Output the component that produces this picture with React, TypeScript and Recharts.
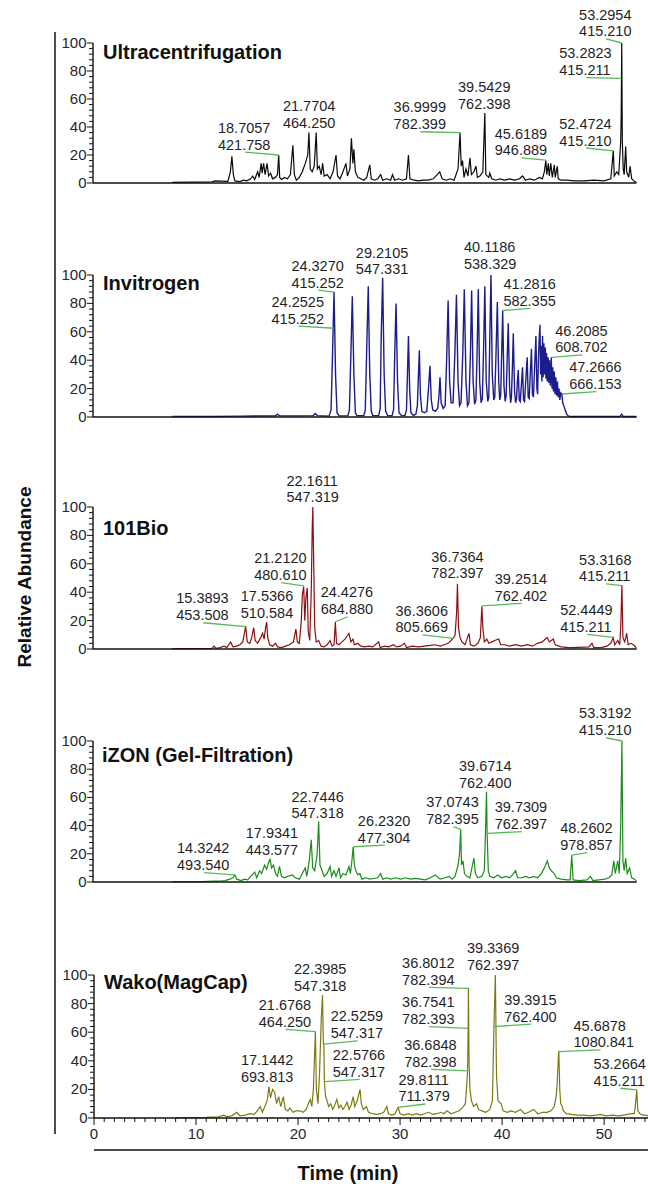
import React from 'react';
import { LineChart, Line, XAxis, YAxis, ReferenceLine, ReferenceDot } from 'recharts';

type Pt = [number, number];
type Ann = { t: string; m: string; x: number; ly: number; px?: number; py?: number };

const abundanceTicks = [0, 4, 8, 12, 16, 20, 24, 28, 32, 36, 40, 44, 48, 52, 56, 60, 64, 68, 72, 76, 80, 84, 88, 92, 96, 100];
const abundanceLabels = [0, 20, 40, 60, 80, 100];
const timeTicks = [0, 1, 2, 3, 4, 5, 6, 7, 8, 9, 10, 11, 12, 13, 14, 15, 16, 17, 18, 19, 20, 21, 22, 23, 24, 25, 26, 27, 28, 29, 30, 31, 32, 33, 34, 35, 36, 37, 38, 39, 40, 41, 42, 43, 44, 45, 46, 47, 48, 49, 50, 51, 52, 53, 54];
const timeLabels = [0, 10, 20, 30, 40, 50];

const panelNames = ['Ultracentrifugation', 'Invitrogen', '101Bio', 'iZON (Gel-Filtration)', 'Wako(MagCap)'];

const ultracentrifugation: Pt[] = [
  [8.0, 0.5], [10.0, 0.6], [12.0, 0.8], [12.3, 1.5], [13.6, 1.2], [13.85, 8], [14.0, 19], [14.15, 6], [14.3, 1.5], [14.8, 1], [15.2, 2], [15.5, 1.5], [15.9, 3], [16.1, 5], [16.3, 2.5], [16.6, 8], [16.75, 4], [16.95, 14], [17.05, 7], [17.2, 14], [17.35, 6], [17.55, 14], [17.7, 5], [17.9, 7], [18.1, 3], [18.4, 4], [18.6, 6], [18.72, 20], [18.82, 4], [19.0, 2.5], [19.3, 4], [19.6, 3], [19.9, 6], [20.15, 27], [20.3, 6], [20.5, 2], [20.8, 4], [21.1, 8], [21.4, 14], [21.65, 20], [21.77, 36], [21.9, 10], [22.1, 8], [22.3, 12], [22.5, 36], [22.62, 10], [22.8, 12], [23.0, 6], [23.15, 14], [23.3, 5], [23.6, 6], [23.9, 3], [24.2, 8], [24.5, 20], [24.65, 5], [24.9, 3], [25.2, 8], [25.5, 14], [25.65, 5], [25.9, 10], [26.05, 32], [26.2, 14], [26.3, 24], [26.45, 8], [26.7, 4], [27.0, 3], [27.3, 2], [27.6, 4], [27.9, 13], [28.05, 3], [28.4, 2], [28.7, 3], [29.0, 6], [29.2, 2], [29.6, 3], [30.0, 2], [30.2, 6], [30.4, 2], [30.8, 3], [31.2, 2], [31.6, 3], [31.8, 20], [31.95, 3], [32.4, 2], [32.8, 1.5], [33.3, 2], [33.8, 2], [34.3, 3], [34.7, 6], [34.95, 8], [35.2, 3], [35.6, 2], [36.0, 3], [36.4, 2], [36.8, 10], [37.0, 36], [37.12, 12], [37.25, 16], [37.4, 4], [37.6, 10], [37.8, 5], [38.0, 18], [38.15, 6], [38.4, 8], [38.6, 12], [38.75, 4], [39.0, 5], [39.3, 8], [39.5, 50], [39.6, 6], [39.9, 4], [40.0, 7], [40.2, 3], [40.6, 2], [41.0, 3], [41.5, 2], [42.0, 3], [42.5, 2], [43.0, 3], [43.3, 5], [43.6, 2], [44.0, 3], [44.5, 2], [45.0, 4], [45.3, 3], [45.5, 8], [45.65, 16], [45.75, 6], [45.9, 14], [46.0, 5], [46.15, 14], [46.3, 4], [46.5, 13], [46.6, 4], [46.8, 12], [46.9, 3], [47.2, 2], [47.8, 2], [48.5, 1.5], [49.5, 1.5], [50.5, 2], [51.5, 1.5], [52.2, 3], [52.45, 23], [52.55, 5], [52.8, 8], [53.0, 6], [53.2, 30], [53.25, 50], [53.3, 100], [53.36, 30], [53.45, 10], [53.55, 6], [53.7, 26], [53.8, 8], [54.0, 4], [54.15, 12], [54.3, 3], [54.6, 1], [54.8, 0.5],
];

const invitrogen: Pt[] = [
  [8.0, 0.3], [12, 0.4], [15, 0.6], [18.4, 0.8], [18.6, 2], [18.8, 0.8], [21, 0.8], [22.2, 1], [22.4, 2.5], [22.6, 1], [23.8, 0.6], [24.0, 5], [24.15, 45], [24.3, 88], [24.45, 30], [24.6, 3], [24.8, 0.8], [25.7, 1], [25.85, 5], [26.0, 45], [26.14, 85], [26.3, 30], [26.45, 3], [26.6, 1], [27.3, 1], [27.45, 5], [27.6, 50], [27.75, 92], [27.9, 30], [28.05, 4], [28.2, 1], [28.8, 1], [28.95, 6], [29.05, 55], [29.2, 98], [29.35, 30], [29.5, 4], [29.7, 1], [30.15, 1], [30.3, 5], [30.42, 45], [30.55, 80], [30.7, 25], [30.85, 3], [31.1, 1], [31.45, 1], [31.6, 5], [31.7, 30], [31.8, 57], [31.92, 20], [32.05, 3], [32.3, 1], [32.55, 2], [32.7, 8], [32.8, 28], [32.9, 47], [33.0, 16], [33.15, 4], [33.4, 3], [33.65, 4], [33.8, 18], [33.97, 36], [34.1, 12], [34.25, 5], [34.5, 4], [34.75, 6], [34.88, 15], [34.98, 28], [35.1, 10], [35.3, 6], [35.5, 8], [35.65, 40], [35.8, 82], [35.95, 25], [36.1, 10], [36.3, 10], [36.48, 45], [36.64, 86], [36.8, 25], [36.95, 8], [37.1, 10], [37.28, 45], [37.43, 90], [37.6, 25], [37.75, 8], [37.9, 10], [38.05, 45], [38.17, 89], [38.32, 25], [38.47, 9], [38.6, 12], [38.72, 45], [38.84, 90], [38.98, 25], [39.12, 10], [39.25, 13], [39.38, 50], [39.5, 92], [39.64, 25], [39.8, 11], [39.9, 14], [40.0, 55], [40.12, 100], [40.25, 30], [40.4, 12], [40.5, 14], [40.63, 45], [40.76, 81], [40.9, 25], [41.0, 12], [41.1, 15], [41.2, 45], [41.3, 75], [41.43, 22], [41.55, 11], [41.65, 15], [41.75, 40], [41.86, 66], [42.0, 20], [42.1, 10], [42.18, 14], [42.28, 35], [42.37, 59], [42.5, 18], [42.6, 10], [42.7, 13], [42.78, 25], [42.87, 33], [42.97, 12], [43.07, 11], [43.18, 22], [43.3, 35], [43.4, 12], [43.5, 11], [43.62, 25], [43.77, 42], [43.87, 14], [43.97, 13], [44.08, 30], [44.2, 48], [44.3, 16], [44.4, 14], [44.52, 35], [44.65, 57], [44.75, 20], [44.82, 16], [44.9, 40], [44.98, 55], [45.06, 65], [45.12, 30], [45.18, 50], [45.25, 25], [45.32, 57], [45.38, 28], [45.45, 52], [45.52, 30], [45.6, 49], [45.66, 27], [45.72, 45], [45.8, 25], [45.88, 42], [45.95, 24], [46.02, 40], [46.1, 22], [46.2, 42], [46.27, 20], [46.35, 35], [46.42, 18], [46.5, 32], [46.58, 16], [46.66, 28], [46.74, 15], [46.82, 25], [46.9, 14], [46.98, 20], [47.06, 12], [47.15, 17], [47.27, 16], [47.35, 10], [47.45, 8], [47.6, 5], [47.75, 2], [47.9, 0.8], [48.2, 0.3], [50, 0.3], [53.1, 0.3], [53.3, 2], [53.45, 0.3], [54.8, 0.3],
];

const bio101: Pt[] = [
  [8.0, 0.3], [10, 0.3], [12.0, 0.5], [12.2, 2], [12.4, 0.5], [12.8, 1], [13.2, 2], [13.5, 1], [13.87, 5], [14.1, 1.5], [14.5, 2], [14.8, 3], [15.1, 5], [15.39, 16], [15.55, 5], [15.8, 4], [16.0, 8], [16.2, 15], [16.35, 6], [16.6, 4], [16.9, 8], [17.1, 11], [17.25, 7], [17.4, 15], [17.5, 19], [17.62, 8], [17.8, 3], [18.1, 2], [18.4, 4], [18.6, 1.5], [19.0, 1], [19.4, 2], [19.8, 3], [20.2, 5], [20.45, 14], [20.6, 5], [20.8, 4], [21.0, 20], [21.1, 38], [21.24, 44], [21.35, 20], [21.45, 35], [21.6, 43], [21.7, 12], [21.85, 6], [22.0, 40], [22.1, 85], [22.16, 100], [22.25, 60], [22.35, 15], [22.5, 5], [22.75, 6], [23.0, 2], [23.3, 1.5], [23.6, 3], [23.9, 6], [24.1, 2], [24.3, 3], [24.43, 19], [24.55, 4], [24.8, 3], [25.1, 5], [25.4, 7], [25.6, 9], [25.8, 11], [26.0, 5], [26.2, 7], [26.35, 3], [26.7, 4], [27.0, 2], [27.4, 1.5], [27.8, 2], [28.2, 1.5], [28.8, 5], [28.95, 1], [29.4, 2], [29.8, 1.5], [30.3, 3], [30.6, 1.5], [31.0, 2], [31.4, 4], [31.6, 1], [32.2, 2], [32.8, 1.5], [33.4, 2], [34.0, 2.5], [34.5, 3], [35.0, 2], [35.4, 3], [35.8, 4], [36.1, 6], [36.36, 8], [36.5, 10], [36.65, 25], [36.74, 46], [36.85, 15], [37.0, 8], [37.2, 5], [37.5, 3], [37.9, 11], [38.05, 3], [38.4, 2], [38.8, 4], [39.05, 8], [39.2, 30], [39.3, 15], [39.45, 5], [39.7, 7], [39.9, 4], [40.2, 5], [40.5, 6], [40.9, 7], [41.1, 3], [41.5, 3], [42.0, 2], [42.6, 3], [43.2, 2], [43.8, 3], [44.3, 2], [44.8, 4], [45.3, 5], [45.6, 7], [45.8, 8], [46.0, 5], [46.2, 6], [46.4, 7], [46.6, 3], [47.2, 1.5], [48.0, 1], [49.0, 1.2], [50.0, 1.5], [50.3, 4], [50.5, 1], [51.2, 1], [51.8, 2], [52.2, 4], [52.44, 8], [52.6, 3], [52.9, 6], [53.1, 3], [53.2, 15], [53.32, 45], [53.42, 8], [53.6, 5], [53.8, 11], [53.95, 3], [54.2, 4], [54.5, 3], [54.8, 0.5],
];

const izon: Pt[] = [
  [8.0, 0.3], [11, 0.3], [12.9, 0.8], [13.3, 1], [13.8, 2], [14.1, 3], [14.3, 5], [14.5, 2], [14.9, 1], [15.3, 2], [15.6, 1.5], [15.9, 4], [16.3, 7], [16.5, 3], [16.8, 8], [17.0, 6], [17.3, 12], [17.5, 9], [17.7, 14], [17.85, 16], [18.0, 10], [18.2, 12], [18.4, 6], [18.6, 4], [18.8, 11], [19.0, 4], [19.3, 3], [19.6, 4], [20.1, 5], [20.4, 3], [20.8, 2], [21.1, 6], [21.4, 10], [21.55, 4], [21.8, 15], [22.0, 30], [22.15, 10], [22.35, 8], [22.6, 20], [22.75, 43], [22.88, 12], [23.1, 8], [23.3, 4], [23.6, 6], [23.9, 11], [24.05, 4], [24.3, 8], [24.5, 4], [24.8, 10], [24.95, 3], [25.2, 6], [25.5, 5], [25.8, 11], [25.95, 6], [26.1, 15], [26.23, 25], [26.35, 12], [26.5, 8], [26.7, 5], [26.9, 6], [27.1, 2], [27.5, 3], [27.9, 2], [28.3, 2.5], [28.7, 3], [29.0, 6], [29.2, 2], [29.6, 3], [30.0, 2], [30.5, 3], [31.0, 2], [31.5, 3], [32.0, 2], [32.5, 2.5], [33.0, 2], [33.5, 1.5], [34.0, 3], [34.5, 5], [35.0, 2], [35.5, 3], [35.9, 4], [36.2, 2], [36.5, 4], [36.8, 12], [36.95, 20], [37.07, 37.4], [37.15, 12], [37.3, 15], [37.45, 6], [37.7, 4], [38.0, 3], [38.25, 12], [38.4, 17], [38.55, 6], [38.8, 3], [39.2, 4], [39.45, 8], [39.55, 32], [39.67, 64], [39.73, 34.5], [39.85, 8], [40.0, 4], [40.4, 3], [40.8, 5], [41.2, 3], [41.6, 4], [42.0, 3], [42.3, 5], [42.6, 8], [42.8, 3], [43.2, 3], [43.6, 4], [44.0, 3], [44.4, 4], [44.8, 3], [45.2, 6], [45.5, 10], [45.8, 15], [46.0, 10], [46.2, 8], [46.5, 6], [46.7, 3], [47.2, 2], [47.8, 1.5], [48.1, 1.5], [48.26, 19], [48.4, 1.5], [49.0, 1], [49.8, 1.5], [50.15, 4], [50.4, 1], [51.0, 1.5], [51.6, 2], [52.0, 3], [52.3, 5], [52.5, 15], [52.65, 6], [52.9, 15], [53.05, 6], [53.2, 40], [53.32, 100], [53.42, 15], [53.55, 8], [53.7, 17], [53.85, 6], [54.1, 10], [54.3, 3], [54.6, 2], [54.8, 0.5],
];

const wako: Pt[] = [
  [8.0, 0.3], [11, 0.4], [12.2, 0.8], [12.7, 2], [13.0, 1], [13.5, 1.5], [14.0, 4], [14.3, 1.5], [14.8, 2], [15.3, 3], [15.7, 2.5], [16.0, 5], [16.3, 8], [16.5, 4], [16.8, 9], [17.0, 13], [17.14, 22], [17.3, 14], [17.5, 20], [17.7, 18], [17.9, 10], [18.1, 15], [18.3, 8], [18.56, 15], [18.75, 6], [19.0, 5], [19.2, 7], [19.5, 4], [19.8, 5], [20.2, 5], [20.5, 4], [20.8, 6], [21.0, 10], [21.2, 13], [21.35, 8], [21.5, 20], [21.62, 45], [21.7, 60.4], [21.8, 20], [21.95, 10], [22.1, 30], [22.28, 70], [22.4, 86], [22.48, 52], [22.53, 51.7], [22.58, 25.4], [22.7, 15], [22.85, 12], [23.0, 8], [23.2, 10], [23.4, 6], [23.6, 9], [23.8, 13], [24.0, 7], [24.2, 9], [24.4, 6], [24.6, 8], [24.8, 11], [25.0, 6], [25.2, 9], [25.4, 15], [25.55, 8], [25.8, 12], [26.0, 18], [26.08, 20], [26.2, 10], [26.4, 6], [26.7, 8], [26.9, 4], [27.3, 3], [27.7, 2.5], [28.1, 3], [28.4, 4], [28.7, 8], [28.85, 3], [29.2, 2], [29.5, 3], [29.8, 7.5], [30.0, 3], [30.4, 2], [30.8, 3], [31.2, 2], [31.6, 3], [32.0, 2], [32.4, 3], [32.8, 4], [33.2, 2.5], [33.6, 3], [34.0, 4], [34.3, 3], [34.6, 5], [35.0, 3], [35.4, 4], [35.8, 5], [36.2, 8], [36.4, 10], [36.55, 25], [36.62, 33], [36.67, 62.7], [36.7, 91], [36.76, 40], [36.85, 20], [37.0, 12], [37.2, 8], [37.5, 10], [37.7, 6], [38.0, 5], [38.4, 4], [38.8, 6], [39.05, 12], [39.2, 63.9], [39.34, 100], [39.45, 30], [39.6, 12], [39.9, 10], [40.1, 5], [40.5, 4], [40.9, 5], [41.3, 4], [41.8, 6], [42.2, 3], [42.6, 4], [43.1, 6], [43.5, 3], [44.0, 4], [44.4, 4], [44.8, 5], [45.1, 8], [45.3, 15], [45.4, 24], [45.5, 40], [45.56, 47], [45.65, 20], [45.75, 10], [45.9, 8], [46.0, 5], [46.3, 3], [46.8, 2.5], [47.4, 2], [48.0, 2], [48.6, 1.5], [49.2, 2], [49.6, 2.5], [50.2, 1.5], [50.8, 2], [51.4, 1.5], [51.9, 2], [52.3, 2.5], [52.7, 3], [52.95, 3], [53.05, 8], [53.2, 19.6], [53.3, 5], [53.5, 3], [53.8, 2], [54.1, 2], [54.3, 1.5],
];

const ultraLabels: Ann[] = [
  { t: '18.7057', m: '421.758', x: 12.6, ly: 22, px: 18.72, py: 20 },
  { t: '21.7704', m: '464.250', x: 19.15, ly: 37.5 },
  { t: '36.9999', m: '782.399', x: 30.3, ly: 36.6, px: 37.0, py: 36 },
  { t: '39.5429', m: '762.398', x: 36.8, ly: 51 },
  { t: '45.6189', m: '946.889', x: 40.5, ly: 17.9, px: 45.65, py: 16.4 },
  { t: '52.4724', m: '415.210', x: 47.0, ly: 25, px: 52.45, py: 23 },
  { t: '53.2823', m: '415.211', x: 47.0, ly: 75.2, px: 53.28, py: 74.8 },
  { t: '53.2954', m: '415.210', x: 49.0, ly: 102.9, px: 53.3, py: 100 },
];

const invitrogenLabels: Ann[] = [
  { t: '24.3270', m: '415.252', x: 20.0, ly: 89.4, px: 24.3, py: 88 },
  { t: '24.2525', m: '415.252', x: 18.0, ly: 64, px: 24.27, py: 62.5 },
  { t: '29.2105', m: '547.331', x: 26.5, ly: 98.7 },
  { t: '40.1186', m: '538.329', x: 37.4, ly: 102.5 },
  { t: '41.2816', m: '582.355', x: 41.37, ly: 76.5, px: 41.3, py: 75 },
  { t: '46.2085', m: '608.702', x: 46.6, ly: 43.7, px: 46.2, py: 42 },
  { t: '47.2666', m: '666.153', x: 48.0, ly: 17.8, px: 47.27, py: 16.2 },
];

const bioLabels: Ann[] = [
  { t: '15.3893', m: '453.508', x: 8.39, ly: 18.5, px: 15.39, py: 15.7 },
  { t: '17.5366', m: '510.584', x: 14.9, ly: 20.3 },
  { t: '21.2120', m: '480.610', x: 16.25, ly: 46.7, px: 21.24, py: 44.4 },
  { t: '22.1611', m: '547.319', x: 19.5, ly: 101.5 },
  { t: '24.4276', m: '684.880', x: 22.95, ly: 22.7, px: 24.43, py: 19.2 },
  { t: '36.3606', m: '805.669', x: 30.5, ly: 9.9, px: 36.36, py: 7.5 },
  { t: '36.7364', m: '782.397', x: 34.1, ly: 48 },
  { t: '39.2514', m: '762.402', x: 40.5, ly: 32.2, px: 39.2, py: 30.3 },
  { t: '52.4449', m: '415.211', x: 47.1, ly: 10.3, px: 52.44, py: 8.2 },
  { t: '53.3168', m: '415.211', x: 49.0, ly: 45.8, px: 53.32, py: 44.6 },
];

const izonLabels: Ann[] = [
  { t: '14.3242', m: '493.540', x: 8.47, ly: 6.6, px: 14.3, py: 5 },
  { t: '17.9341', m: '443.577', x: 15.4, ly: 17.4 },
  { t: '22.7446', m: '547.318', x: 20.0, ly: 43.4 },
  { t: '26.2320', m: '477.304', x: 26.7, ly: 26.2, px: 26.23, py: 25 },
  { t: '37.0743', m: '782.395', x: 33.6, ly: 39.2, px: 37.07, py: 37.4 },
  { t: '39.6714', m: '762.400', x: 36.9, ly: 65.1 },
  { t: '39.7309', m: '762.397', x: 40.5, ly: 35.7, px: 39.73, py: 34.5 },
  { t: '48.2602', m: '978.857', x: 47.1, ly: 20.8, px: 48.26, py: 19.1 },
  { t: '53.3192', m: '415.210', x: 49.0, ly: 102.3, px: 53.32, py: 100 },
];

const wakoLabels: Ann[] = [
  { t: '22.3985', m: '547.318', x: 19.6, ly: 87 },
  { t: '21.6768', m: '464.250', x: 16.15, ly: 62, px: 21.7, py: 60.4 },
  { t: '22.5259', m: '547.317', x: 23.2, ly: 54, px: 22.53, py: 51.7 },
  { t: '22.5766', m: '547.317', x: 23.4, ly: 27, px: 22.58, py: 25.4 },
  { t: '17.1442', m: '693.813', x: 14.4, ly: 23.6 },
  { t: '29.8111', m: '711.379', x: 29.84, ly: 9.8, px: 29.8, py: 7.5 },
  { t: '36.8012', m: '782.394', x: 30.2, ly: 91.4, px: 36.7, py: 90.7 },
  { t: '36.7541', m: '782.393', x: 30.2, ly: 63.9, px: 36.68, py: 62.7 },
  { t: '36.6848', m: '782.398', x: 30.4, ly: 34, px: 36.65, py: 33 },
  { t: '39.3369', m: '762.397', x: 36.55, ly: 101.7 },
  { t: '39.3915', m: '762.400', x: 40.2, ly: 65.7, px: 39.22, py: 63.9 },
  { t: '45.6878', m: '1080.841', x: 47.0, ly: 47.6, px: 45.56, py: 46.4 },
  { t: '53.2664', m: '415.211', x: 48.95, ly: 20.8, px: 53.2, py: 19.6 },
];

const FONT = '"Liberation Sans", Arial, Helvetica, sans-serif';
const LEADER = '#5cb85c';
const TEXT = '#1f1f28';

type PanelCfg = {
  name: string;
  data: Pt[];
  labels: Ann[];
  color: string;
  sw: number;
  top: number;
  bottom: number;
  left: number;
  right: number;
  xmax: number;
  last: boolean;
  titleX: number;
  titleY: number;
};

const panels: PanelCfg[] = [
  { name: panelNames[0], data: ultracentrifugation, labels: ultraLabels, color: '#0a0a0a', sw: 1.2, top: 43, bottom: 183, left: 93, right: 636.6, xmax: 54.8, last: false, titleX: 103, titleY: 59 },
  { name: panelNames[1], data: invitrogen, labels: invitrogenLabels, color: '#1c1c8a', sw: 1.4, top: 275, bottom: 417, left: 93, right: 636.6, xmax: 54.8, last: false, titleX: 103, titleY: 290 },
  { name: panelNames[2], data: bio101, labels: bioLabels, color: '#8b1010', sw: 1.2, top: 507, bottom: 649, left: 93, right: 636.6, xmax: 54.8, last: false, titleX: 103, titleY: 535 },
  { name: panelNames[3], data: izon, labels: izonLabels, color: '#1e8a1e', sw: 1.2, top: 741, bottom: 882, left: 93, right: 636.6, xmax: 54.8, last: false, titleX: 102, titleY: 762 },
  { name: panelNames[4], data: wako, labels: wakoLabels, color: '#7d7a12', sw: 1.2, top: 975, bottom: 1118, left: 94, right: 648, xmax: 54.3, last: true, titleX: 104, titleY: 989 },
];

const YTick = (props: any) => {
  const { x, y, payload } = props;
  const major = abundanceLabels.includes(payload.value);
  return (
    <g>
      <line x1={x - (major ? 6 : 4)} x2={x} y1={y} y2={y} stroke="#111" strokeWidth={1} />
      {major && (
        <text x={x - 6.5} y={y + 5} textAnchor="end" fontSize={15} fontFamily={FONT} fill="#262630">
          {payload.value}
        </text>
      )}
    </g>
  );
};

const XTick = (props: any) => {
  const { x, y, payload } = props;
  const major = timeLabels.includes(payload.value);
  return (
    <g>
      <line x1={x} x2={x} y1={y} y2={y + (major ? 7 : 4)} stroke="#111" strokeWidth={1} />
      {major && (
        <text x={x} y={y + 21} textAnchor="middle" fontSize={15} fontFamily={FONT} fill="#262630">
          {payload.value}
        </text>
      )}
    </g>
  );
};

const LINE_GAP = 16.8;

function Panel({ cfg }: { cfg: PanelCfg }) {
  const marginTop = 44;
  const marginBottom = cfg.last ? 0 : 10;
  const axisH = cfg.last ? 30 : 1;
  const plotH = cfg.bottom - cfg.top;
  const height = marginTop + plotH + axisH + marginBottom;
  const yAxisW = 50;
  const rows = cfg.data.map(([t, v]) => ({ t, v }));
  const pxPerMin = (cfg.right - cfg.left) / cfg.xmax;
  return (
    <div style={{ position: 'absolute', left: 0, top: cfg.top - marginTop }}>
      <LineChart
        width={648}
        height={height}
        data={rows}
        margin={{ top: marginTop, right: 648 - cfg.right, bottom: marginBottom, left: cfg.left - yAxisW }}
      >
        {cfg.last ? (
          <XAxis
            type="number"
            dataKey="t"
            domain={[0, cfg.xmax]}
            allowDataOverflow
            ticks={timeTicks}
            interval={0}
            tickLine={false}
            tickSize={0}
            tickMargin={0}
            tick={(p: any) => <XTick {...p} />}
            height={axisH}
            axisLine={{ stroke: '#111', strokeWidth: 1.4 }}
          />
        ) : (
          <XAxis
            type="number"
            dataKey="t"
            domain={[0, cfg.xmax]}
            allowDataOverflow
            tick={false}
            tickLine={false}
            height={axisH}
            axisLine={{ stroke: '#111', strokeWidth: 1.4 }}
          />
        )}
        <YAxis
          type="number"
          domain={[0, 100]}
          ticks={abundanceTicks}
          interval={0}
          tickLine={false}
          tickSize={0}
          tickMargin={0}
          tick={(p: any) => <YTick {...p} />}
          width={yAxisW}
          axisLine={{ stroke: '#111', strokeWidth: 1.4 }}
        />
        <Line
          type="linear"
          dataKey="v"
          stroke={cfg.color}
          strokeWidth={cfg.sw}
          dot={false}
          activeDot={false}
          isAnimationActive={false}
        />
        {cfg.labels
          .filter((a) => a.px !== undefined)
          .map((a, i) => (
            <ReferenceLine
              key={'l' + i}
              segment={[
                { x: a.x + 27 / pxPerMin, y: a.ly },
                { x: a.px as number, y: a.py as number },
              ]}
              stroke={LEADER}
              strokeWidth={1.3}
              ifOverflow="visible"
            />
          ))}
        {cfg.labels.map((a, i) => (
          <ReferenceDot
            key={'d' + i}
            x={a.x}
            y={a.ly}
            r={0}
            ifOverflow="visible"
            shape={(p: any) => (
              <g>
                <text x={p.cx} y={p.cy - 2.5 - LINE_GAP} fontSize={14.5} fontFamily={FONT} fill={TEXT}>
                  {a.t}
                </text>
                <text x={p.cx} y={p.cy - 2.5} fontSize={14.5} fontFamily={FONT} fill={TEXT}>
                  {a.m}
                </text>
              </g>
            )}
          />
        ))}
      </LineChart>
    </div>
  );
}

export default function App() {
  return (
    <div style={{ position: 'absolute', left: 0, top: 0, width: 648, height: 1184, background: '#fff', overflow: 'hidden' }}>
      <svg width={648} height={1184} style={{ position: 'absolute', left: 0, top: 0 }}>
        <line x1={55} x2={55} y1={32} y2={1134} stroke="#111" strokeWidth={1.5} />
        <line x1={94} x2={648} y1={1150} y2={1150} stroke="#111" strokeWidth={1.6} />
        <text
          transform="translate(31,577) rotate(-90)"
          textAnchor="middle"
          fontSize={19}
          fontWeight="bold"
          fontFamily={FONT}
          fill="#111"
        >
          Relative Abundance
        </text>
        <text x={348} y={1180} textAnchor="middle" fontSize={20} fontWeight="bold" fontFamily={FONT} fill="#111">
          Time (min)
        </text>
        {panels.map((p) => (
          <text key={p.name} x={p.titleX} y={p.titleY} fontSize={20} fontWeight="bold" fontFamily={FONT} fill="#111">
            {p.name}
          </text>
        ))}
      </svg>
      {panels.map((p) => (
        <Panel key={p.name} cfg={p} />
      ))}
    </div>
  );
}
